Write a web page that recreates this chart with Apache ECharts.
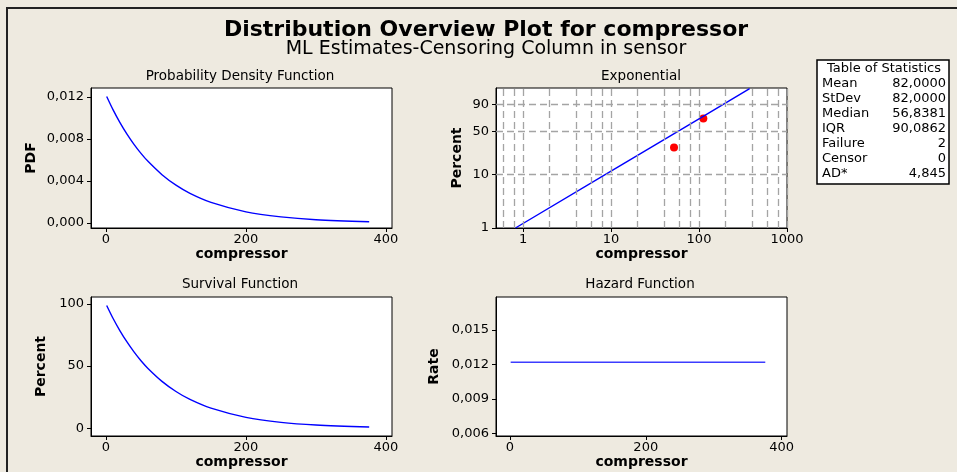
<!DOCTYPE html>
<html><head><meta charset="utf-8">
<script src="https://cdn.jsdelivr.net/npm/echarts@6/dist/echarts.min.js"></script>
<style>html,body{margin:0;padding:0;background:#EEEAE0}#c{width:957px;height:472px}</style>
</head><body><div id="c"></div>
<script>
// ---- data ----
const curveT    = [1, 10, 20, 30, 40, 50, 60, 80, 100, 120, 150, 200, 250, 300, 376];
const pdfVals   = [0.01205, 0.01080, 0.00956, 0.00846, 0.00749, 0.00663, 0.00587, 0.00460, 0.00360, 0.00282, 0.00196, 0.00106, 0.00058, 0.00031, 0.00012];
const survVals  = [98.8, 88.5, 78.4, 69.4, 61.4, 54.3, 48.1, 37.7, 29.5, 23.1, 16.1, 8.7, 4.7, 2.6, 1.0];
const expLineT  = [0.82, 10, 100, 376];
const expLineP  = [1.0, 11.5, 70.5, 99.0];
const failT     = [52, 112];
const failP     = [29.2, 70.8];
const hazT      = [1, 376];
const hazRate   = [0.0122, 0.0122];
const xTicks    = [0, 200, 400];
const pdfTicks  = [0, 0.004, 0.008, 0.012];
const survTicks = [0, 50, 100];
const expXTicks = [1, 10, 100, 1000];
const expPTicks = [1, 10, 50, 90];
const hazTicks  = [0.006, 0.009, 0.012, 0.015];
const expGridX  = [0.6, 0.8, 1, 2, 4, 6, 8, 10, 20, 40, 60, 80, 100, 200, 400, 600, 800, 1000];
const expGridP  = [10, 50, 90];
const statLabels = ['Mean', 'StDev', 'Median', 'IQR', 'Failure', 'Censor', 'AD*'];
const statValues = ['82,0000', '82,0000', '56,8381', '90,0862', '2', '0', '4,845'];

// ---- helpers ----
const FONT = 'DejaVu Sans';
const lx = v => Math.log10(v);
const tp = p => Math.log10(-Math.log(1 - p / 100));      // exponential probability scale
const itp = v => 100 * (1 - Math.exp(-Math.pow(10, v)));
const comma = d => v => v.toFixed(d).replace('.', ',');
const zip = (a, b) => a.map((x, i) => [x, b[i]]);

function ax(gi, min, max, ticks, fmt, name, gap, isY) {
  return {
    type: 'value', gridIndex: gi, min, max,
    name, nameLocation: 'middle', nameGap: gap,
    nameTextStyle: {fontFamily: FONT, fontWeight: 'bold', fontSize: 14, color: '#000'},
    axisLine: {show: true, onZero: false, lineStyle: {color: '#000', width: 1}},
    axisTick: {show: true, customValues: ticks, length: 4, lineStyle: {color: '#000'}},
    axisLabel: {customValues: ticks, formatter: fmt, fontFamily: FONT, fontSize: 13, color: '#000', margin: isY ? 7 : 5},
    splitLine: {show: false}
  };
}
const gridBase = {show: true, backgroundColor: '#fff', borderColor: '#000', borderWidth: 1, containLabel: false};
const blue = {color: '#0000ff', width: 1.4};
const gridLine = {color: '#a4a4a4', type: [7, 4], width: 1.3};
const ttl = (text, x, y, font) => ({type: 'text', x, y, style: {text, font, fill: '#000', textAlign: 'center', textVerticalAlign: 'middle'}});

const option = {
  backgroundColor: '#EEEAE0',
  animation: false,
  grid: [
    Object.assign({left: 91, top: 88, width: 301, height: 140}, gridBase),
    Object.assign({left: 496, top: 88, width: 291, height: 140}, gridBase),
    Object.assign({left: 91, top: 297, width: 301, height: 139}, gridBase),
    Object.assign({left: 496, top: 297, width: 291, height: 139}, gridBase)
  ],
  xAxis: [
    ax(0, -21.4, 408.6, xTicks, v => String(v), 'compressor', 16, false),
    ax(1, lx(0.493), 3, expXTicks.map(lx), v => String(Math.round(Math.pow(10, v))), 'compressor', 16, false),
    ax(2, -21.4, 408.6, xTicks, v => String(v), 'compressor', 16, false),
    ax(3, -20.6, 408, xTicks, v => String(v), 'compressor', 16, false)
  ],
  yAxis: [
    ax(0, -0.00048, 0.01286, pdfTicks, comma(3), 'PDF', 53, true),
    ax(1, tp(1) - 1e-9, 0.674, expPTicks.map(tp), v => String(Math.round(itp(v))), 'Percent', 32, true),
    ax(2, -6.3, 105.6, survTicks, v => String(v), 'Percent', 43, true),
    ax(3, 0.0058, 0.01786, hazTicks, comma(3), 'Rate', 55, true)
  ],
  series: [
    {type: 'line', xAxisIndex: 0, yAxisIndex: 0, data: zip(curveT, pdfVals), smooth: 0.3, symbol: 'none', lineStyle: blue},
    {type: 'line', xAxisIndex: 1, yAxisIndex: 1, data: [], symbol: 'none', silent: true,
     markLine: {silent: true, symbol: ['none', 'none'], label: {show: false}, lineStyle: gridLine,
       data: expGridX.map(v => ({xAxis: lx(v)})).concat(expGridP.map(p => ({yAxis: tp(p)})))}},
    {type: 'line', xAxisIndex: 1, yAxisIndex: 1, data: expLineT.map((t, i) => [lx(t), tp(expLineP[i])]), symbol: 'none', lineStyle: blue},
    {type: 'scatter', xAxisIndex: 1, yAxisIndex: 1, data: failT.map((t, i) => [lx(t), tp(failP[i])]), symbolSize: 8, itemStyle: {color: '#ff0000', opacity: 1}},
    {type: 'line', xAxisIndex: 2, yAxisIndex: 2, data: zip(curveT, survVals), smooth: 0.3, symbol: 'none', lineStyle: blue},
    {type: 'line', xAxisIndex: 3, yAxisIndex: 3, data: zip(hazT, hazRate), symbol: 'none', lineStyle: {color: '#3c3cff', width: 1.5}}
  ],
  graphic: [
    {type: 'rect', shape: {x: 7, y: 8, width: 1000, height: 1000}, style: {fill: 'none', stroke: '#222', lineWidth: 2}, silent: true},
    ttl('Distribution Overview Plot for compressor', 486, 30, 'bold 22px "DejaVu Sans"'),
    ttl('ML Estimates-Censoring Column in sensor', 486, 49, '19px "DejaVu Sans"'),
    ttl('Probability Density Function', 240, 76, '13.5px "DejaVu Sans"'),
    ttl('Exponential', 641, 76, '13.5px "DejaVu Sans"'),
    ttl('Survival Function', 240, 284, '13.5px "DejaVu Sans"'),
    ttl('Hazard Function', 640, 284, '13.5px "DejaVu Sans"'),
    {type: 'rect', shape: {x: 817, y: 60, width: 132, height: 124}, style: {fill: '#fff', stroke: '#000', lineWidth: 1.5}},
    ttl('Table of Statistics', 884, 69, '13px "DejaVu Sans"')
  ].concat(statLabels.map((s, i) => ({type: 'text', x: 822, y: 84 + 15 * i, style: {text: s, font: '13px "DejaVu Sans"', fill: '#000', textAlign: 'left', textVerticalAlign: 'middle'}})))
   .concat(statValues.map((s, i) => ({type: 'text', x: 946, y: 84 + 15 * i, style: {text: s, font: '13px "DejaVu Sans"', fill: '#000', textAlign: 'right', textVerticalAlign: 'middle'}})))
};
const chart = echarts.init(document.getElementById('c'), null, {renderer: 'canvas'});
chart.setOption(option);
</script></body></html>
